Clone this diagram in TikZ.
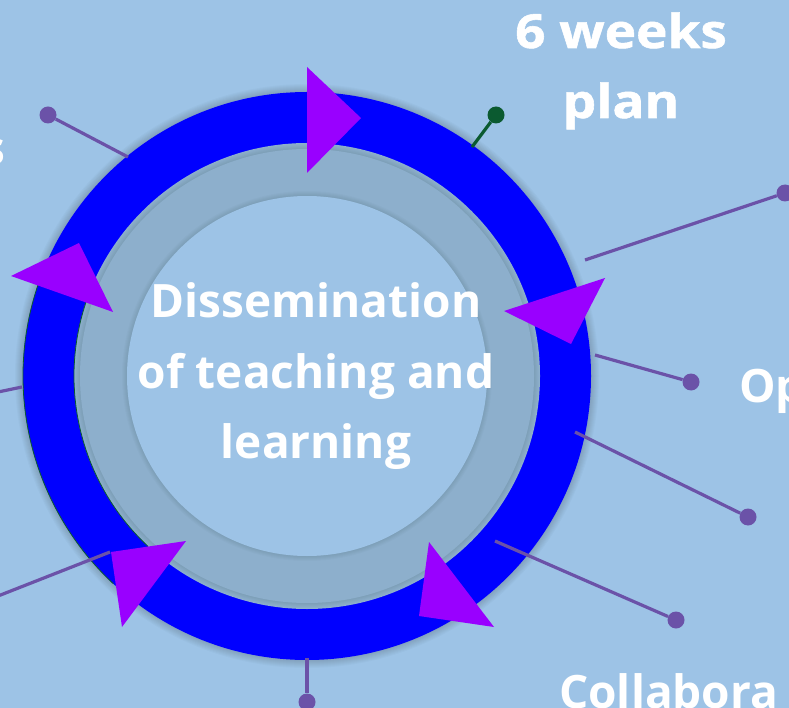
\documentclass[tikz,border=0pt]{standalone}
\usepackage{fontspec}
\setmainfont{Open Sans}
\usetikzlibrary{positioning}
\definecolor{bgblue}{RGB}{157,195,230}
\definecolor{ringblue}{RGB}{0,0,255}
\definecolor{ringgrey}{RGB}{141,175,204}
\definecolor{tripurple}{RGB}{153,0,255}
\definecolor{spokecol}{RGB}{107,82,168}
\definecolor{darkgreen}{RGB}{11,90,48}
\begin{document}
\begin{tikzpicture}[x=1pt,y=-1pt,
    spoke/.style={draw=spokecol, line width=3.2pt},
    dot/.style={circle, fill=spokecol, inner sep=0pt, minimum size=17pt},
    tri/.style={fill=tripurple},
    bigtext/.style={text=white, font=\bfseries\fontsize{46}{56}\selectfont, inner sep=0pt},
    titletext/.style={bigtext, font=\bfseries\fontsize{47}{56}\selectfont\addfontfeatures{FakeStretch=1.13,FakeBold=1.2}}]
    \fill[bgblue] (0,0) rectangle (789,708);
    \clip (0,0) rectangle (789,708);
    \coordinate (ctr) at (307,376);
    % ring with soft shadow
    \foreach \i in {1,...,8}
        \fill[black, opacity=0.018] (ctr) circle (284pt+\i pt);
    \fill[ringblue] (ctr) circle (284pt);
    \draw[darkgreen, line width=0.8pt] (ctr) ++(161:284pt) arc[start angle=161, end angle=227, radius=284pt];
    \fill[ringgrey] (ctr) circle (233pt);
    \draw[darkgreen, line width=0.8pt] (ctr) ++(161:233pt) arc[start angle=161, end angle=227, radius=233pt];
    \foreach \i in {1,...,5}
        \fill[black, opacity=0.015] (ctr) circle (233pt-\i pt);
    \fill[ringgrey] (ctr) circle (227pt);
    \foreach \i in {1,...,5}
        \fill[black, opacity=0.015] (ctr) circle (180pt+\i pt);
    \fill[bgblue] (ctr) circle (180pt);
    % spokes
    \node[dot] (d1) at (48,115) {};
    \node[dot, fill=darkgreen] (d2) at (496,115) {};
    \node[dot] (d3) at (785,193) {};
    \node[dot] (d4) at (691,382) {};
    \node[dot] (d5) at (748,517) {};
    \node[dot] (d6) at (676,620) {};
    \node[dot] (d7) at (307,702) {};
    \coordinate (r1) at (128,157);
    \coordinate (r2) at (472,147);
    \coordinate (r3) at (585,260);
    \coordinate (r4) at (595,355);
    \coordinate (r5) at (575,432);
    \coordinate (r6) at (495,541);
    \coordinate (r7) at (307,658);
    \coordinate (r8) at (110,552);
    \coordinate (r9) at (22,387);
    \coordinate (e8) at (-2,596);
    \coordinate (e9) at (-2,392);
    \draw[spoke] (r1) -- (d1);
    \draw[spoke, draw=darkgreen] (r2) -- (d2);
    \draw[spoke] (r3) -- (d3);
    \draw[spoke] (r4) -- (d4);
    \draw[spoke] (r5) -- (d5);
    \draw[spoke] (r6) -- (d6);
    \draw[spoke] (r7) -- (d7);
    \draw[spoke] (r8) -- (e8);
    \draw[spoke] (r9) -- (e9);
    % arrow heads on the ring
    \fill[tri] (307,67) -- (307,173) -- (361,118) -- cycle;
    \fill[tri] (11,276) -- (79,243) -- (113,312) -- cycle;
    \fill[tri] (504,311) -- (605,278) -- (571,344) -- cycle;
    \fill[tri] (429,542) -- (419,616) -- (494,627) -- cycle;
    \fill[tri] (111,552) -- (186,541) -- (122,627) -- cycle;
    % texts
    \node[titletext, anchor=base] (weeks) at (621,48) {6 weeks};
    \node[titletext, below=70pt of weeks.base, anchor=base] (plan) {plan};
    \node[bigtext, anchor=base] (dissem) at (316,318) {Dissemination};
    \node[bigtext, below=70pt of dissem.base, anchor=base] (ofteach) {of teaching and};
    \node[bigtext, below=70pt of ofteach.base, anchor=base] (learn) {learning};
    \node[bigtext, anchor=base east] (lefts) at (6,165) {s};
    \node[bigtext, anchor=base west] (optext) at (739,402) {Op};
    \node[bigtext, anchor=base west] (collab) at (559,708) {Collabora};
\end{tikzpicture}
\end{document}
